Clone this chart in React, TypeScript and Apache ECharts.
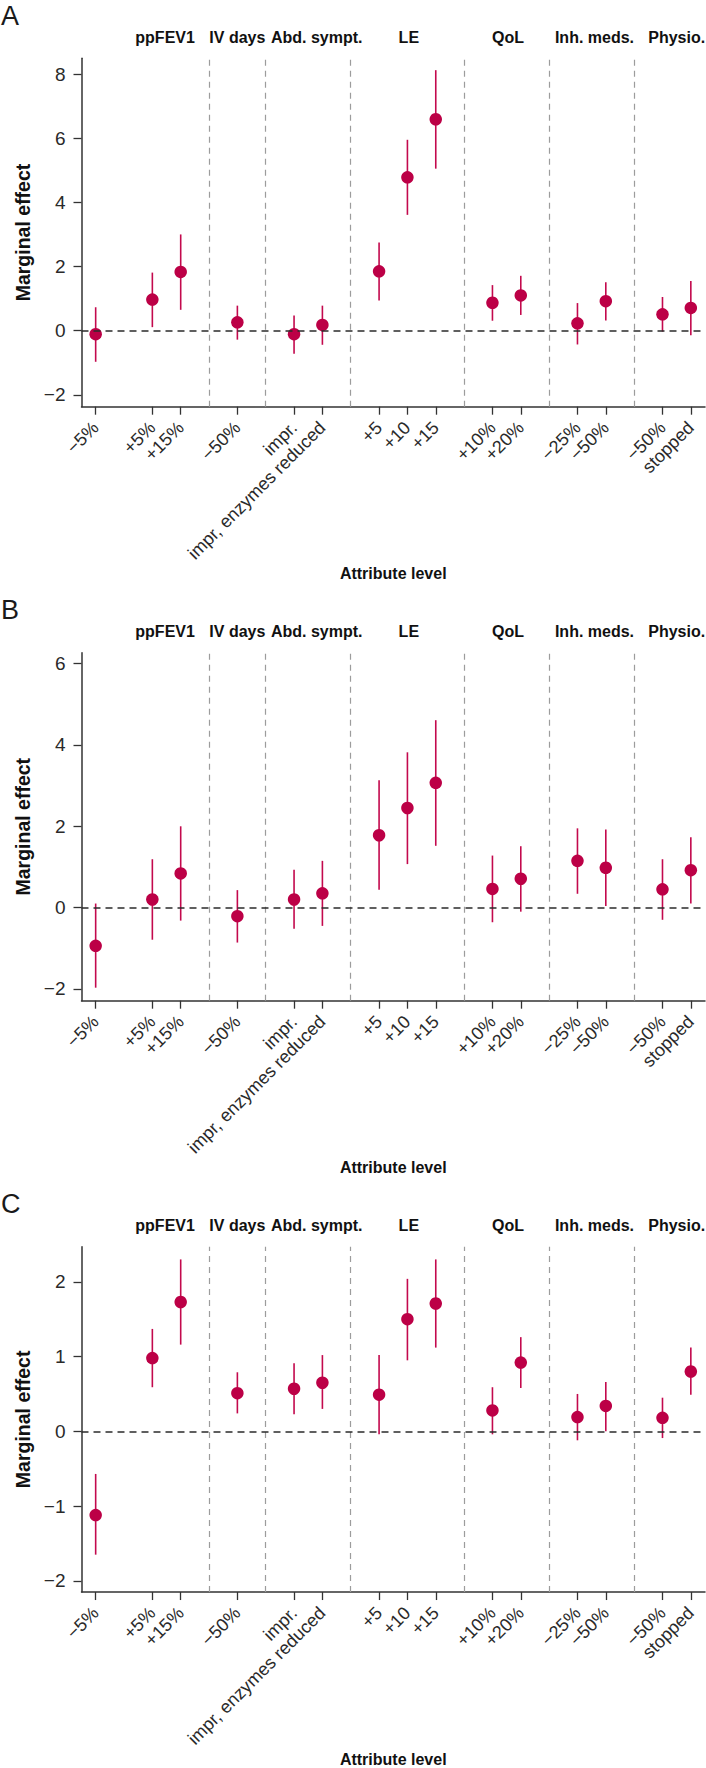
import React, { useEffect, useRef } from 'react';
import * as echarts from 'echarts';

// ---- data ----
const levels = ['−5%', '+5%', '+15%', '−50%', 'impr.', 'impr, enzymes reduced', '+5', '+10', '+15', '+10%', '+20%', '−25%', '−50%', '−50%', 'stopped'];
const positions = [0, 2, 3, 5, 7, 8, 10, 11, 12, 14, 15, 17, 18, 20, 21];
const groups = ['ppFEV1', 'IV days', 'Abd. sympt.', 'LE', 'QoL', 'Inh. meds.', 'Physio.'];
const groupLabelAt = [2.45, 5, 7.8, 11.05, 14.55, 17.6, 20.5];
const dividers = [4, 6, 9, 13, 16, 19];
const panelLetters = ['A', 'B', 'C'];

const estA = [-0.11, 0.97, 1.83, 0.26, -0.11, 0.18, 1.85, 4.78, 6.59, 0.87, 1.10, 0.23, 0.92, 0.51, 0.71];
const loA = [-0.97, 0.11, 0.65, -0.28, -0.72, -0.44, 0.94, 3.61, 5.05, 0.31, 0.49, -0.43, 0.32, -0.03, -0.14];
const hiA = [0.73, 1.81, 3.0, 0.78, 0.47, 0.78, 2.75, 5.95, 8.12, 1.42, 1.71, 0.86, 1.51, 1.05, 1.55];

const estB = [-0.94, 0.20, 0.84, -0.21, 0.20, 0.35, 1.78, 2.45, 3.07, 0.46, 0.71, 1.15, 0.98, 0.45, 0.92];
const loB = [-1.97, -0.79, -0.32, -0.86, -0.52, -0.45, 0.44, 1.07, 1.52, -0.36, -0.10, 0.34, 0.04, -0.30, 0.10];
const hiB = [0.10, 1.19, 2.0, 0.43, 0.93, 1.15, 3.13, 3.82, 4.61, 1.28, 1.51, 1.95, 1.92, 1.19, 1.73];

const estC = [-1.12, 0.98, 1.73, 0.51, 0.57, 0.65, 0.49, 1.50, 1.71, 0.28, 0.92, 0.19, 0.34, 0.18, 0.80];
const loC = [-1.65, 0.59, 1.16, 0.24, 0.23, 0.30, -0.04, 0.95, 1.12, -0.04, 0.58, -0.12, 0.0, -0.09, 0.49];
const hiC = [-0.57, 1.37, 2.30, 0.79, 0.91, 1.02, 1.02, 2.04, 2.30, 0.59, 1.26, 0.50, 0.66, 0.45, 1.12];

const ticksA = [-2, 0, 2, 4, 6, 8];
const ticksB = [-2, 0, 2, 4, 6];
const ticksC = [-2, -1, 0, 1, 2];

// ---- layout ----
const panels = [
  { est: estA, lo: loA, hi: hiA, ticks: ticksA, top: 58.3, height: 348.4, ymin: -2.37, ymax: 8.49 },
  { est: estB, lo: loB, hi: hiB, ticks: ticksB, top: 652.7, height: 348, ymin: -2.29, ymax: 6.27 },
  { est: estC, lo: loC, hi: hiC, ticks: ticksC, top: 1246.7, height: 347.6, ymin: -2.15, ymax: 2.47 },
];

const FONT = '"Liberation Sans", Arial, Helvetica, sans-serif';
const DOT = '#BC0046';
const BAR = '#C3094D';
const AXIS = '#333333';

export default function App() {
  const ref = useRef<HTMLDivElement>(null);

  useEffect(() => {
    if (!ref.current) return;
    const chart = echarts.init(ref.current, null, { renderer: 'svg' });

    const grid: any[] = [];
    const xAxis: any[] = [];
    const yAxis: any[] = [];
    const series: any[] = [];

    panels.forEach((p, k) => {
      grid.push({ left: 81.5, right: 1, top: p.top, height: p.height, containLabel: false });
      xAxis.push({
        type: 'value',
        gridIndex: k,
        min: -0.5,
        max: 21.5,
        name: 'Attribute level',
        nameLocation: 'middle',
        nameGap: 156,
        nameTextStyle: { fontFamily: FONT, fontWeight: 'bold', fontSize: 16, color: '#111' },
        axisLine: { show: true, onZero: false, lineStyle: { color: AXIS, width: 1.5 } },
        axisTick: { show: true, length: 8, customValues: positions, lineStyle: { color: AXIS, width: 1.3 } },
        axisLabel: {
          customValues: positions,
          rotate: 45,
          margin: 18,
          fontFamily: FONT,
          fontSize: 18,
          color: '#2a2a2a',
          formatter: (v: number) => {
            const i = positions.indexOf(v);
            return i >= 0 ? levels[i] : '';
          },
        },
        splitLine: { show: false },
      });
      yAxis.push({
        type: 'value',
        gridIndex: k,
        min: p.ymin,
        max: p.ymax,
        name: 'Marginal effect',
        nameLocation: 'middle',
        nameRotate: 90,
        nameGap: 44,
        nameTextStyle: { fontFamily: FONT, fontWeight: 'bold', fontSize: 19.5, color: '#111' },
        axisLine: { show: true, onZero: false, lineStyle: { color: AXIS, width: 1.5 } },
        axisTick: { show: true, length: 8, customValues: p.ticks, lineStyle: { color: AXIS, width: 1.3 } },
        axisLabel: {
          customValues: p.ticks,
          margin: 16,
          fontFamily: FONT,
          fontSize: 19,
          color: '#2a2a2a',
          formatter: (v: number) => (v < 0 ? '−' + Math.abs(v) : String(v)),
        },
        splitLine: { show: false },
      });

      series.push({
        type: 'custom',
        xAxisIndex: k,
        yAxisIndex: k,
        z: 2,
        silent: true,
        data: positions.map((x, i) => [x, p.lo[i], p.hi[i]]),
        encode: { x: 0, y: [1, 2] },
        renderItem: (_params: any, api: any) => {
          const x = api.value(0);
          const a = api.coord([x, api.value(1)]);
          const b = api.coord([x, api.value(2)]);
          return {
            type: 'line',
            shape: { x1: a[0], y1: a[1], x2: b[0], y2: b[1] },
            style: { stroke: BAR, lineWidth: 1.6 },
          };
        },
        markLine: {
          silent: true,
          symbol: 'none',
          label: { show: false },
          animation: false,
          data: [
            ...dividers.map((d) => ({ xAxis: d, lineStyle: { color: '#9c9c9c', type: [6, 5], width: 1.2 } })),
            { yAxis: 0, lineStyle: { color: '#2b2b2b', type: [7, 5], width: 1.5 } },
          ],
        },
      });
      series.push({
        type: 'scatter',
        xAxisIndex: k,
        yAxisIndex: k,
        z: 3,
        silent: true,
        symbol: 'circle',
        symbolSize: 12.5,
        itemStyle: { color: DOT, opacity: 1 },
        data: positions.map((x, i) => [x, p.est[i]]),
      });
    });

    chart.setOption({
      animation: false,
      backgroundColor: '#ffffff',
      grid,
      xAxis,
      yAxis,
      series,
    });

    // text labels positioned through the axes' scales
    const graphic: any[] = [];
    panels.forEach((p, k) => {
      graphic.push({
        type: 'text',
        left: 1,
        top: p.top - 56,
        style: { text: panelLetters[k], fontFamily: FONT, fontSize: 27, fill: '#1a1a1a' },
      });
      groups.forEach((g, j) => {
        const px = chart.convertToPixel({ xAxisIndex: k }, groupLabelAt[j]) as number;
        graphic.push({
          type: 'text',
          x: px,
          y: p.top - 21,
          style: {
            text: g,
            fontFamily: FONT,
            fontWeight: 'bold',
            fontSize: 16,
            fill: '#111',
            align: 'center',
            verticalAlign: 'middle',
          },
        });
      });
    });
    chart.setOption({ graphic });

    return () => chart.dispose();
  }, []);

  return (
    <div
      ref={ref}
      style={{ position: 'absolute', left: 0, top: 0, width: 706, height: 1768, background: '#fff' }}
    />
  );
}
